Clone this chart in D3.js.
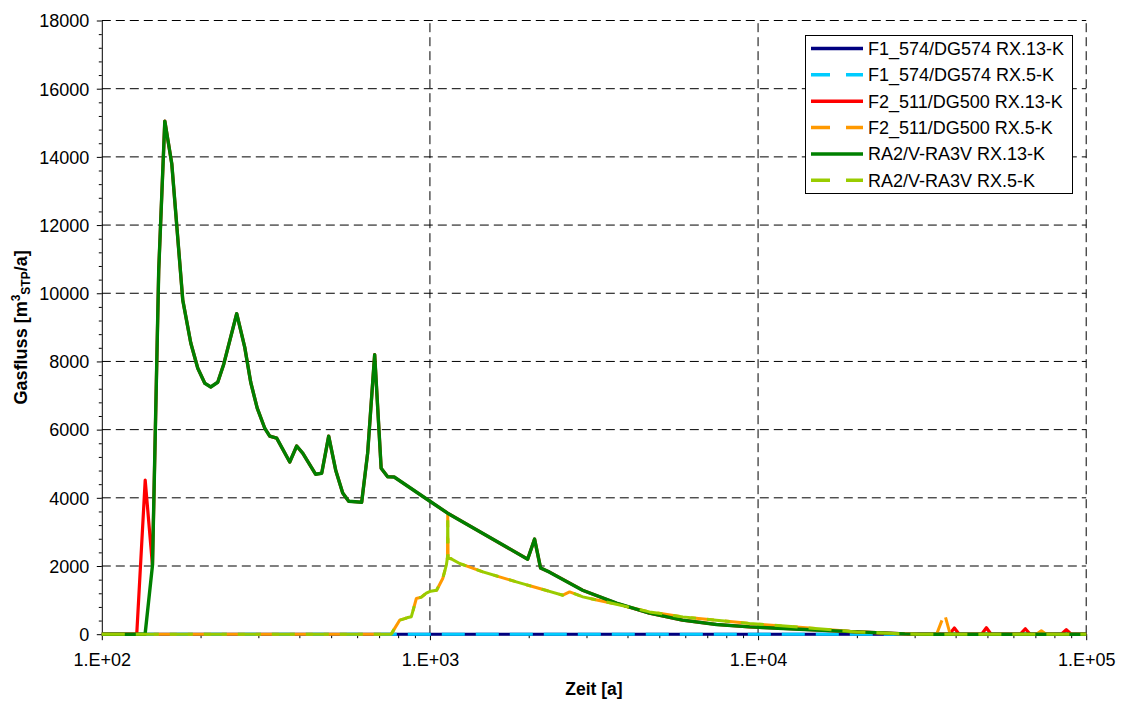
<!DOCTYPE html>
<html>
<head>
<meta charset="utf-8">
<script src="https://cdn.jsdelivr.net/npm/d3@7"></script>
<style>
  body { margin: 0; background: #fff; }
  svg { display: block; }
  text { font-family: "Liberation Sans", Arial, sans-serif; fill: #000; }
</style>
</head>
<body>
<svg id="chart" width="1121" height="701"></svg>
<script>
// ---- data -------------------------------------------------------------
const yearTicks = [100, 1000, 10000, 100000];
const yearTickLabels = ["1.E+02", "1.E+03", "1.E+04", "1.E+05"];
const flowTicks = [0, 2000, 4000, 6000, 8000, 10000, 12000, 14000, 16000, 18000];

const seriesNames = [
  "F1_574/DG574 RX.13-K",
  "F1_574/DG574 RX.5-K",
  "F2_511/DG500 RX.13-K",
  "F2_511/DG500 RX.5-K",
  "RA2/V-RA3V RX.13-K",
  "RA2/V-RA3V RX.5-K"
];

// F1_574/DG574: no gas flow over the whole period
const f1Rx13Years = [100, 1000, 10000, 100000];
const f1Rx13Flow  = [0, 0, 0, 0];
const f1Rx5Years  = [100, 1000, 10000, 100000];
const f1Rx5Flow   = [0, 0, 0, 0];

// F2_511/DG500 RX.13-K
const f2Rx13Years = [100, 127.8, 135.6, 142.7, 149.1, 155.6, 163.4, 176.5, 186.7, 196.1,
  206, 214.8, 225.6, 235.3, 257.7, 272.6, 284.3, 297.6, 313.8, 324.9, 341.2, 373.9,
  392.6, 409.5, 448.6, 467.9, 491.4, 516.2, 542.2, 565.5, 619.4, 645.9, 678.5, 710.1,
  743.3, 778, 1000, 1132, 1985, 2084, 2174, 2315, 2918, 3704, 4667, 5886, 7464, 9419,
  13370, 19950, 23940, 28000, 33000, 38300, 39650, 41000, 48000, 49640, 51300,
  63000, 65230, 67500, 84000, 86960, 90000, 100000];
const f2Rx13Flow = [0, 0, 4520, 2020, 10680, 15050, 13800, 9800, 8540, 7800,
  7360, 7250, 7390, 7920, 9400, 8420, 7390, 6630, 6040, 5810, 5750, 5050,
  5520, 5310, 4690, 4720, 5810, 4810, 4140, 3900, 3870, 5310, 8200, 4870,
  4620, 4610, 3900, 3550, 2200, 2790, 1940, 1820, 1290, 910, 616, 411, 285, 214,
  147, 67, 38, 10, 0, 0, 180, 0, 0, 190, 0,
  0, 160, 0, 0, 130, 0, 0];

// F2_511/DG500 RX.5-K
const f2Rx5Years = [100, 761.6, 808.5, 837.5, 857, 877.7, 909, 941.4, 975, 1005, 1048,
  1095, 1122, 1131, 1133, 1136, 1232, 1450, 1834, 2541, 2665, 2924, 3697, 4667,
  5898, 7455, 9419, 13370, 19950, 26920, 31000, 35000, 37000, 38500, 70500, 73000,
  75500, 100000];
const f2Rx5Flow = [0, 0, 411, 455, 490, 513, 1047, 1086, 1203, 1262, 1291,
  1643, 2024, 2259, 3500, 2259, 2074, 1828, 1535, 1144, 1241, 1094, 880, 654,
  508, 411, 314, 205, 67, 15, 0, 0, 600, 0, 0, 100,
  0, 0];

// RA2/V-RA3V RX.13-K
const raRx13Years = [100, 135.5, 142.7, 149.1, 155.6, 163.4, 176.5, 186.7, 196.1, 206,
  214.8, 225.6, 235.3, 257.7, 272.6, 284.3, 297.6, 313.8, 324.9, 341.2, 373.9, 392.6,
  409.5, 448.6, 467.9, 491.4, 516.2, 542.2, 565.5, 619.4, 645.9, 678.5, 710.1, 743.3,
  778, 1000, 1132, 1985, 2084, 2174, 2315, 2918, 3704, 4667, 5886, 7464, 9419, 13370,
  19950, 23940, 28000, 33000, 100000];
const raRx13Flow = [0, 0, 2020, 10680, 15050, 13800, 9800, 8540, 7800, 7360,
  7250, 7390, 7920, 9400, 8420, 7390, 6630, 6040, 5810, 5750, 5050, 5520,
  5310, 4690, 4720, 5810, 4810, 4140, 3900, 3870, 5310, 8200, 4870, 4620,
  4610, 3900, 3550, 2200, 2790, 1940, 1820, 1290, 910, 616, 411, 285, 214, 147,
  67, 38, 10, 0, 0];

// RA2/V-RA3V RX.5-K
const raRx5Years = [100, 761.6, 808.5, 837.5, 857, 877.7, 909, 941.4, 975, 1005, 1048,
  1095, 1122, 1131, 1133, 1136, 1232, 1450, 1834, 2541, 2665, 2924, 3697, 4667,
  5898, 7455, 9419, 13370, 19950, 26920, 31000, 100000];
const raRx5Flow = [0, 0, 411, 455, 490, 513, 1047, 1086, 1203, 1262, 1291,
  1643, 2024, 2259, 3500, 2259, 2074, 1828, 1535, 1144, 1241, 1094, 880, 654,
  508, 411, 314, 205, 67, 15, 0, 0];

// ---- styling ------------------------------------------------------------
const seriesColors = ["#000080", "#00ccff", "#ff0000", "#ff9900", "#008000", "#99cc00"];
const seriesDashed = [false, true, false, true, false, true];
const seriesDashOffset = [0, 0, 0, 16, 0, 0];
const seriesWidth = [3, 3, 3.2, 3, 3.4, 3];

const seriesData = [
  [f1Rx13Years, f1Rx13Flow],
  [f1Rx5Years, f1Rx5Flow],
  [f2Rx13Years, f2Rx13Flow],
  [f2Rx5Years, f2Rx5Flow],
  [raRx13Years, raRx13Flow],
  [raRx5Years, raRx5Flow]
].map(([t, v]) => t.map((year, i) => ({ year, flow: v[i] })));

// ---- scales -------------------------------------------------------------
const svg = d3.select("#chart");
const x = d3.scaleLog().domain([100, 100000]).range([101.8, 1086.2]);
const y = d3.scaleLinear().domain([0, 18000]).range([634.2, 20.5]);
const FONT = '"Liberation Sans", Arial, sans-serif';

// ---- gridlines ----------------------------------------------------------
const grid = svg.append("g")
  .attr("stroke", "#000").attr("stroke-width", 1)
  .attr("stroke-dasharray", "9,5").attr("fill", "none");
grid.selectAll("line.gh").data(flowTicks.filter(d => d > 0)).join("line")
  .attr("class", "gh")
  .attr("x1", x(100)).attr("x2", x(100000))
  .attr("y1", d => y(d)).attr("y2", d => y(d));
grid.selectAll("line.gv").data(yearTicks.filter(d => d > 100)).join("line")
  .attr("class", "gv")
  .attr("x1", d => x(d)).attr("x2", d => x(d))
  .attr("y1", y(0)).attr("y2", y(18000));

// ---- axes ---------------------------------------------------------------
function styleAxis(g) {
  g.attr("font-family", FONT).attr("font-size", 18);
  g.selectAll("line").attr("stroke", "#000");
  g.selectAll("path.domain").attr("stroke", "#000");
  g.selectAll("text").attr("fill", "#000");
}

const flowMinor = d3.range(0, 18001, 400).filter(d => d % 2000 !== 0);
svg.append("g").attr("transform", `translate(${x(100)},0)`)
  .call(d3.axisLeft(y).tickValues(flowMinor).tickSize(3).tickFormat(""))
  .call(g => g.select(".domain").remove())
  .call(styleAxis);
svg.append("g").attr("transform", `translate(${x(100)},0)`)
  .call(d3.axisLeft(y).tickValues(flowTicks).tickSize(5).tickSizeOuter(0)
    .tickPadding(7.5).tickFormat(d3.format("d")))
  .call(styleAxis)
  .call(g => g.selectAll("text").attr("dy", "0.35em"));

const yearMinor = [];
[100, 1000, 10000].forEach(b => { for (let k = 2; k <= 9; k++) yearMinor.push(b * k); });
svg.append("g").attr("transform", `translate(0,${y(0)})`)
  .call(d3.axisBottom(x).tickValues(yearMinor).tickSize(4).tickFormat(""))
  .call(g => g.select(".domain").remove())
  .call(styleAxis);
svg.append("g").attr("transform", `translate(0,${y(0)})`)
  .call(d3.axisBottom(x).tickValues(yearTicks).tickSize(6).tickSizeOuter(0)
    .tickPadding(13).tickFormat((d, i) => yearTickLabels[i]))
  .call(styleAxis);

// ---- series -------------------------------------------------------------
const line = d3.line().x(d => x(d.year)).y(d => y(d.flow));
svg.append("g").selectAll("path.series").data(seriesData).join("path")
  .attr("class", "series")
  .attr("d", line)
  .attr("fill", "none")
  .attr("stroke", (d, i) => seriesColors[i])
  .attr("stroke-width", (d, i) => seriesWidth[i])
  .attr("stroke-linejoin", "round")
  .attr("stroke-dasharray", (d, i) => seriesDashed[i] ? "23,11" : null)
  .attr("stroke-dashoffset", (d, i) => seriesDashOffset[i]);

// ---- axis titles --------------------------------------------------------
svg.append("text")
  .attr("x", (x(100) + x(100000)) / 2).attr("y", 695)
  .attr("text-anchor", "middle")
  .attr("font-family", FONT).attr("font-size", 17.5).attr("font-weight", "bold")
  .text("Zeit [a]");

const yTitle = svg.append("text")
  .attr("transform", `translate(26.5,${(y(0) + y(18000)) / 2}) rotate(-90)`)
  .attr("text-anchor", "middle")
  .attr("font-family", FONT).attr("font-size", 18).attr("font-weight", "bold");
yTitle.append("tspan").text("Gasfluss [m");
yTitle.append("tspan").attr("font-size", 12).attr("dy", -7).text("3");
yTitle.append("tspan").attr("font-size", 12).attr("dy", 10).text("STP");
yTitle.append("tspan").attr("dy", -3).text("/a]");

// ---- legend -------------------------------------------------------------
const legend = svg.append("g");
legend.append("rect")
  .attr("x", 805.5).attr("y", 35.5).attr("width", 267).attr("height", 158)
  .attr("fill", "#fff").attr("stroke", "#000").attr("stroke-width", 1);
const rows = legend.selectAll("g.row").data(seriesNames).join("g")
  .attr("class", "row")
  .attr("transform", (d, i) => `translate(0,${48.5 + i * 26.35})`);
rows.append("line")
  .attr("x1", 811).attr("x2", 863).attr("y1", 0).attr("y2", 0)
  .attr("stroke", (d, i) => seriesColors[i])
  .attr("stroke-width", 3.5)
  .attr("stroke-dasharray", (d, i) => seriesDashed[i] ? "19,16" : null);
rows.append("text")
  .attr("x", 868).attr("y", 6.5)
  .attr("font-family", FONT).attr("font-size", 18)
  .text(d => d);
</script>
</body>
</html>
